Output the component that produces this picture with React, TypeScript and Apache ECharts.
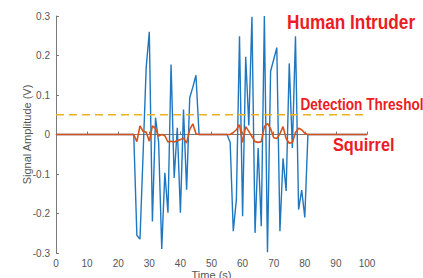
import React, { useEffect, useRef } from "react";
import * as echarts from "echarts";

const times: number[] = Array.from({ length: 101 }, (_, i) => i);

// Human intruder signal (V), from t = 25 to 81 s; zero elsewhere
const intruderStart = 25;
const intruderValues: number[] = [
  0, -0.255, -0.265, -0.05, 0.17, 0.26, -0.22, 0.043, -0.02, -0.29,
  -0.097, -0.198, 0.177, -0.11, 0.017, -0.198, 0.063, -0.14, 0.093, 0.12,
  0.15, 0, 0, 0, 0, 0, 0, 0, 0, 0,
  0, -0.02, -0.245, -0.165, 0.249, -0.207, 0.197, 0.023, 0.298, -0.249,
  -0.034, -0.232, 0.3, -0.298, 0.16, 0.19, 0.22, -0.245, -0.06, -0.143,
  0.18, -0.034, 0.249, -0.19, -0.141, -0.21, 0,
];

// Squirrel signal (V), from t = 25 to 81 s; zero elsewhere
const squirrelStart = 25;
const squirrelValues: number[] = [
  0, -0.018, 0.022, 0.008, 0.006, -0.017, 0.022, 0.015, -0.004, 0,
  -0.003, -0.019, -0.017, -0.019, -0.015, -0.013, -0.009, -0.022, 0.013, 0.027,
  0.002, 0, 0, 0, 0, 0, 0, 0, 0, 0,
  0, 0, 0.005, 0.012, 0.025, -0.02, 0.02, 0.008, -0.005, -0.018,
  -0.02, -0.018, 0.02, 0.028, 0.015, -0.008, -0.01, 0.002, 0.02, -0.01,
  -0.022, -0.02, 0.005, 0.016, 0.012, 0.003, 0,
];

const thresholdValue = 0.05;
const xTicks = { min: 0, max: 100, interval: 10 };
const yTicks = { min: -0.3, max: 0.3, interval: 0.1 };

const labels = {
  human: "Human Intruder",
  threshold: "Detection Threshol",
  squirrel: "Squirrel",
  xName: "Time (s)",
  yName: "Signal Amplitude (V)",
};

function buildSeries(start: number, values: number[]): [number, number][] {
  return times.map((t) => {
    const idx = t - start;
    const v = idx >= 0 && idx < values.length ? values[idx] : 0;
    return [t, v];
  });
}

export default function App() {
  const ref = useRef<HTMLDivElement>(null);

  useEffect(() => {
    if (!ref.current) return;
    const chart = echarts.init(ref.current, undefined, { renderer: "svg" });
    const axisColor = "#7a7a7a";
    const labelColor = "#555";
    const red = "#ec1c24";
    chart.setOption({
      animation: false,
      backgroundColor: "#ffffff",
      grid: {
        left: 56,
        right: 56,
        top: 16,
        bottom: 25,
        containLabel: false,
        outerBoundsMode: "none",
      },
      xAxis: {
        type: "value",
        min: xTicks.min,
        max: xTicks.max,
        interval: xTicks.interval,
        name: labels.xName,
        nameLocation: "middle",
        nameGap: 16,
        nameMoveOverlap: false,
        nameTextStyle: { color: labelColor, fontSize: 11, fontFamily: "Liberation Sans, Arial, sans-serif" },
        axisLine: { show: true, lineStyle: { color: axisColor, width: 1 } },
        axisTick: { show: true, inside: true, length: 3, lineStyle: { color: axisColor } },
        axisLabel: { color: labelColor, fontSize: 10, margin: 5, fontFamily: "Liberation Sans, Arial, sans-serif" },
        splitLine: { show: false },
      },
      yAxis: {
        type: "value",
        min: yTicks.min,
        max: yTicks.max,
        interval: yTicks.interval,
        name: labels.yName,
        nameLocation: "middle",
        nameGap: 24,
        nameMoveOverlap: false,
        nameTextStyle: { color: labelColor, fontSize: 11, fontFamily: "Liberation Sans, Arial, sans-serif" },
        axisLine: { show: true, lineStyle: { color: axisColor, width: 1 } },
        axisTick: { show: true, inside: true, length: 3, lineStyle: { color: axisColor } },
        axisLabel: {
          color: labelColor,
          fontSize: 10,
          margin: 6,
          fontFamily: "Liberation Sans, Arial, sans-serif",
          formatter: (v: number) => (Math.abs(v) < 1e-9 ? "0" : String(+v.toFixed(1))),
        },
        splitLine: { show: false },
      },
      series: [
        {
          name: "Human Intruder",
          type: "line",
          data: buildSeries(intruderStart, intruderValues),
          showSymbol: false,
          lineStyle: { color: "#1f77c0", width: 1.4 },
          z: 2,
        },
        {
          name: "Squirrel",
          type: "line",
          data: buildSeries(squirrelStart, squirrelValues),
          showSymbol: false,
          lineStyle: { color: "#d95319", width: 1.6 },
          z: 3,
        },
        {
          name: "Detection Threshold",
          type: "line",
          data: [
            [xTicks.min, thresholdValue],
            [xTicks.max, thresholdValue],
          ],
          showSymbol: false,
          lineStyle: { color: "#edb120", width: 1.4, type: [8, 5] },
          z: 4,
        },
      ],
      graphic: [
        {
          type: "text",
          x: 287,
          y: 21.5,
          scaleX: 0.82,
          style: {
            text: labels.human,
            fill: red,
            font: "bold 21px 'Liberation Sans', Arial, sans-serif",
            verticalAlign: "middle",
            align: "left",
          },
        },
        {
          type: "text",
          x: 300.5,
          y: 104,
          scaleX: 0.8,
          style: {
            text: labels.threshold,
            fill: red,
            font: "bold 17px 'Liberation Sans', Arial, sans-serif",
            verticalAlign: "middle",
            align: "left",
          },
        },
        {
          type: "text",
          x: 333,
          y: 145,
          scaleX: 0.88,
          style: {
            text: labels.squirrel,
            fill: red,
            font: "bold 18.5px 'Liberation Sans', Arial, sans-serif",
            verticalAlign: "middle",
            align: "left",
          },
        },
      ],
    });
    return () => chart.dispose();
  }, []);

  return (
    <div
      ref={ref}
      style={{ position: "fixed", left: 0, top: 0, width: 423, height: 278, background: "#fff" }}
    />
  );
}
